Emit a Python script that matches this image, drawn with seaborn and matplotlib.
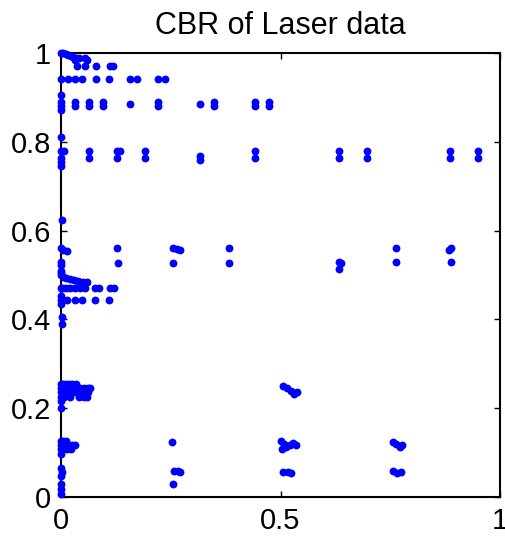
import matplotlib
matplotlib.use("Agg")
import matplotlib.pyplot as plt
import numpy as np
import pandas as pd
import seaborn as sns

# Case points with y above 0.7
upper_x = [0.000, 0.005, 0.011, 0.016, 0.023, 0.027, 0.034, 0.041, 0.055, 0.059, 0.032,
           0.036, 0.055, 0.080, 0.112, 0.118,
           0.000, 0.016, 0.032, 0.048, 0.080, 0.109, 0.157, 0.173, 0.221, 0.237,
           0.000,
           0.000, 0.000, 0.000, 0.032, 0.032, 0.064, 0.064, 0.096, 0.096, 0.157,
           0.221, 0.221, 0.317, 0.349, 0.349, 0.442, 0.442, 0.474, 0.474,
           0.000,
           0.000, 0.000, 0.000, 0.000, 0.007, 0.064, 0.064, 0.128, 0.128, 0.134,
           0.191, 0.191, 0.317, 0.317, 0.442, 0.442, 0.633, 0.633, 0.697, 0.697,
           0.886, 0.886, 0.950, 0.950]
upper_y = [1.000, 1.000, 0.998, 0.995, 0.993, 0.991, 0.989, 0.989, 0.989, 0.984, 0.984,
           0.971, 0.971, 0.971, 0.971, 0.971,
           0.941, 0.941, 0.941, 0.941, 0.941, 0.941, 0.941, 0.941, 0.941, 0.941,
           0.905,
           0.890, 0.881, 0.872, 0.889, 0.880, 0.889, 0.880, 0.889, 0.880, 0.885,
           0.889, 0.880, 0.885, 0.889, 0.880, 0.889, 0.880, 0.889, 0.880,
           0.811,
           0.779, 0.764, 0.755, 0.745, 0.779, 0.779, 0.764, 0.779, 0.764, 0.779,
           0.779, 0.764, 0.768, 0.759, 0.779, 0.764, 0.779, 0.764, 0.779, 0.764,
           0.779, 0.764, 0.779, 0.764]

# Case points with y between 0.35 and 0.7
middle_x = [0.002,
            0.000, 0.005, 0.014, 0.128, 0.255, 0.264, 0.271, 0.383, 0.763, 0.888, 0.884,
            0.000, 0.000, 0.130, 0.255, 0.383, 0.633, 0.638, 0.633, 0.763, 0.888,
            0.000, 0.000,
            0.000, 0.005, 0.011, 0.021, 0.030, 0.039, 0.050, 0.059,
            0.000, 0.005, 0.011, 0.021, 0.032, 0.043, 0.055, 0.077, 0.087, 0.112, 0.121,
            0.000, 0.014, 0.032, 0.048, 0.078, 0.110,
            0.000, 0.000, 0.002, 0.002]
middle_y = [0.624,
            0.561, 0.556, 0.554, 0.561, 0.561, 0.559, 0.556, 0.561, 0.561, 0.561, 0.556,
            0.529, 0.523, 0.527, 0.527, 0.527, 0.529, 0.527, 0.514, 0.529, 0.529,
            0.509, 0.505,
            0.500, 0.495, 0.493, 0.491, 0.489, 0.486, 0.484, 0.484,
            0.471, 0.471, 0.471, 0.471, 0.471, 0.471, 0.471, 0.471, 0.471, 0.471, 0.471,
            0.444, 0.444, 0.444, 0.444, 0.444, 0.444,
            0.453, 0.435, 0.405, 0.390]

# Case points with y below 0.35
lower_x = [0.000, 0.005, 0.011, 0.018, 0.025, 0.034,
           0.000, 0.007, 0.016, 0.025, 0.034, 0.043, 0.052, 0.062, 0.066,
           0.000, 0.002, 0.011, 0.021, 0.030, 0.039, 0.050, 0.062,
           0.000, 0.007, 0.021, 0.041, 0.052, 0.059,
           0.000, 0.000,
           0.000, 0.005, 0.011,
           0.000, 0.007, 0.016, 0.025, 0.032,
           0.000, 0.005, 0.014, 0.023,
           0.000,
           0.000, 0.002, 0.000, 0.000, 0.000, 0.000,
           0.253, 0.257, 0.267, 0.271, 0.255,
           0.506, 0.515, 0.524, 0.531, 0.538,
           0.501, 0.508, 0.513, 0.522, 0.528, 0.535, 0.503,
           0.506, 0.517, 0.524,
           0.756, 0.763, 0.772, 0.777,
           0.756, 0.765, 0.774]
lower_y = [0.255, 0.255, 0.255, 0.255, 0.255, 0.255,
           0.245, 0.245, 0.245, 0.245, 0.245, 0.245, 0.245, 0.245, 0.245,
           0.236, 0.236, 0.236, 0.236, 0.236, 0.236, 0.236, 0.236,
           0.225, 0.225, 0.225, 0.225, 0.225, 0.225,
           0.216, 0.200,
           0.126, 0.126, 0.126,
           0.117, 0.117, 0.117, 0.117, 0.117,
           0.108, 0.108, 0.108, 0.108,
           0.097,
           0.065, 0.056, 0.047, 0.029, 0.018, 0.007,
           0.124, 0.059, 0.059, 0.056, 0.029,
           0.250, 0.245, 0.239, 0.232, 0.236,
           0.126, 0.119, 0.113, 0.117, 0.122, 0.117, 0.108,
           0.056, 0.056, 0.054,
           0.124, 0.119, 0.113, 0.117,
           0.059, 0.054, 0.056]

x_ticks = [0, 0.5, 1]
x_tick_labels = ["0", "0.5", "1"]
y_ticks = [0, 0.2, 0.4, 0.6, 0.8, 1]
y_tick_labels = ["0", "0.2", "0.4", "0.6", "0.8", "1"]

points = pd.DataFrame({
    "x": upper_x + middle_x + lower_x,
    "y": upper_y + middle_y + lower_y,
})

sns.set_style("white")
plt.rcParams["font.family"] = ["Liberation Sans", "DejaVu Sans"]
plt.rcParams["text.color"] = "black"

fig = plt.figure(figsize=(5.05, 5.40), dpi=100)
ax = fig.add_axes([0.1208, 0.0796, 0.8693, 0.8222])

sns.scatterplot(data=points, x="x", y="y", ax=ax, color=(0, 0, 1),
                s=32, linewidth=0, clip_on=False, zorder=3)

ax.set_xlim(0, 1)
ax.set_ylim(0, 1)
ax.set_xticks(x_ticks)
ax.set_xticklabels(x_tick_labels)
ax.set_yticks(y_ticks)
ax.set_yticklabels(y_tick_labels)
ax.set_xlabel("")
ax.set_ylabel("")

for side in ["left", "right", "top", "bottom"]:
    ax.spines[side].set_visible(True)
    ax.spines[side].set_color("black")
    ax.spines[side].set_linewidth(1.5)

ax.tick_params(axis="both", which="both", direction="in", length=4, width=1,
               labelsize=21, pad=7, top=True, right=True, bottom=True, left=True,
               colors="black", labelcolor="black")

ax.set_title("CBR of Laser data", fontsize=22, pad=14, color="black")

fig.savefig("out.png", dpi=100)
